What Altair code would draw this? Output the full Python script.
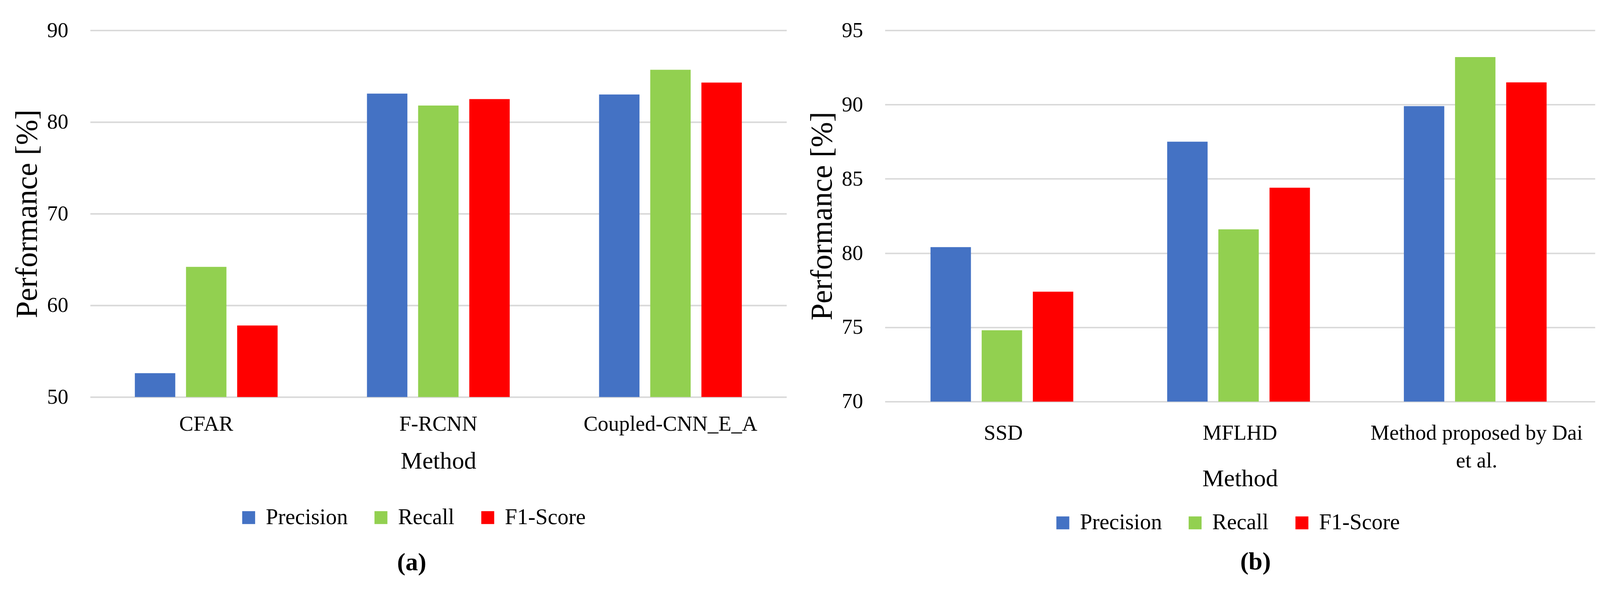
import altair as alt
import pandas as pd

FONT = "Liberation Serif"

series = ["Precision", "Recall", "F1-Score"]
colors = ["#4472C4", "#92D050", "#FF0000"]

methods_a = ["CFAR", "F-RCNN", "Coupled-CNN_E_A"]
precision_a = [52.6, 83.1, 83.0]
recall_a = [64.2, 81.8, 85.7]
f1_a = [57.8, 82.5, 84.3]

methods_b = ["SSD", "MFLHD", "Method proposed by Dai et al."]
precision_b = [80.4, 87.5, 89.9]
recall_b = [74.8, 81.6, 93.2]
f1_b = [77.4, 84.4, 91.5]

ticks_a = [50, 60, 70, 80, 90]
ticks_b = [70, 75, 80, 85, 90, 95]


def make_df(methods, p, r, f):
    rows = []
    for i, m in enumerate(methods):
        for s, vals in zip(series, [p, r, f]):
            rows.append({"Method": m, "Series": s, "Value": vals[i]})
    return pd.DataFrame(rows)


def panel(df, methods, ticks, width, height, caption, cap_dx, cap_offset,
          legend_x, legend_y, label_pad, title_y):
    return alt.Chart(df).mark_bar(clip=True).encode(
        x=alt.X(
            "Method:N", sort=methods,
            scale=alt.Scale(paddingInner=0.385, paddingOuter=0.1925),
            axis=alt.Axis(
                title="Method", labelAngle=0, labelFontSize=56,
                labelPadding=label_pad, labelLineHeight=73, labelLimit=2000,
                labelExpr="datum.label == 'Method proposed by Dai et al.' ? ['Method proposed by Dai', 'et al.'] : datum.label",
                titleFontSize=64, titleFontWeight="normal", titleY=title_y,
                titleBaseline="alphabetic", domain=False, ticks=False, grid=False,
                labelColor="black", titleColor="black",
            ),
        ),
        xOffset=alt.XOffset("Series:N", sort=series,
                            scale=alt.Scale(paddingInner=0.21, paddingOuter=0)),
        y=alt.Y(
            "Value:Q",
            scale=alt.Scale(domain=[ticks[0], ticks[-1]], zero=False, nice=False),
            axis=alt.Axis(
                title="Performance [%]", values=ticks, labelFontSize=56,
                labelPadding=58, titleFontSize=80, titleFontWeight="normal",
                titlePadding=10, domain=False, ticks=False, grid=True,
                gridColor="#D9D9D9", gridWidth=4, labelColor="black",
                titleColor="black",
            ),
        ),
        color=alt.Color(
            "Series:N", sort=series,
            scale=alt.Scale(domain=series, range=colors),
            legend=alt.Legend(
                title=None, orient="none", direction="horizontal",
                legendX=legend_x, legendY=legend_y, symbolType="square",
                symbolSize=1156, symbolStrokeWidth=0, labelFontSize=58,
                labelOffset=16, columnPadding=58, labelColor="black",
                labelLimit=1000,
            ),
        ),
    ).properties(
        width=width, height=height,
        title=alt.TitleParams(caption, orient="bottom", anchor="middle",
                              frame="group", dx=cap_dx, offset=cap_offset,
                              fontSize=66, fontWeight="bold", color="black"),
    )


left = panel(make_df(methods_a, precision_a, recall_a, f1_a), methods_a, ticks_a,
             1832, 964, "(a)", -70, 58, 388, 1252, 44, 188)
right = panel(make_df(methods_b, precision_b, recall_b, f1_b), methods_b, ticks_b,
              1868, 976, "(b)", 41, 41, 439, 1266, 56, 222)

chart = alt.hconcat(left, right, spacing=54).resolve_scale(
    color="independent"
).resolve_legend(color="independent").properties(
    padding={"left": 24, "top": 23, "right": 5, "bottom": 5}
).configure(font=FONT).configure_view(stroke=None)

chart.save("out.html", embed_options={"renderer": "svg", "actions": False})
